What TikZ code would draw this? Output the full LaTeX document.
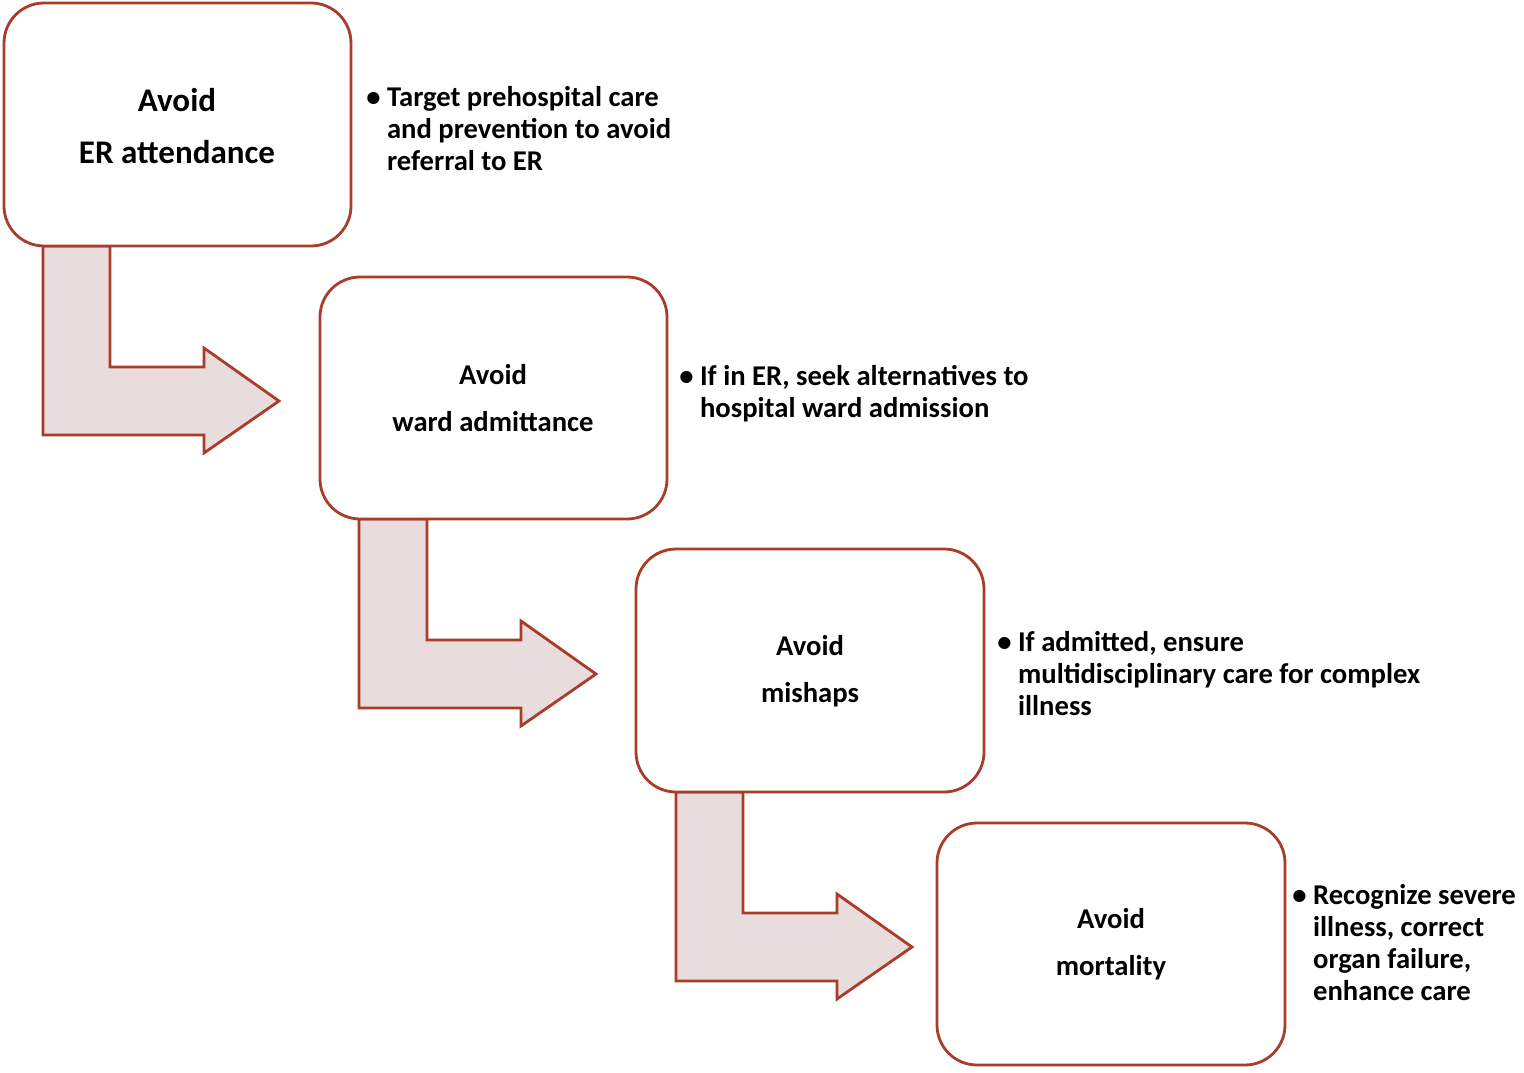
\documentclass[tikz,border=0pt]{standalone}
\usepackage{fontspec}
\setmainfont{Carlito}
\begin{document}
\begin{tikzpicture}[x=0.02cm,y=-0.02cm,
  box/.style={draw=boxred,line width=1.6pt,rounded corners=0.8cm,fill=white},
  arr/.style={draw=boxred,line width=1.6pt,fill=arrfill,line join=miter},
  title/.style={font=\bfseries\fontsize{16.3}{27}\selectfont,align=center},
  btext/.style={font=\bfseries\fontsize{16.3}{18.3}\selectfont,align=left,anchor=north west,inner sep=0pt}]
\definecolor{boxred}{RGB}{168,62,42}
\definecolor{arrfill}{RGB}{233,220,220}
\useasboundingbox (0,0) rectangle (1524,1072);
% arrows
\draw[arr] (43,246)--(110,246)--(110,367)--(204,367)--(204,348)--(279,401)--(204,453)--(204,435)--(43,435)--cycle;
\draw[arr] (359,519)--(427,519)--(427,640)--(521,640)--(521,621)--(596,674)--(521,726)--(521,708)--(359,708)--cycle;
\draw[arr] (676,792)--(743,792)--(743,913)--(837,913)--(837,894)--(912,947)--(837,999)--(837,981)--(676,981)--cycle;
% boxes
\draw[box] (4,3) rectangle (351,246);
\draw[box] (320,277) rectangle (667,519);
\draw[box] (636,549) rectangle (984,792);
\draw[box] (937,823) rectangle (1285,1065);
\node[title,font=\bfseries\fontsize{18.8}{30}\selectfont] (t1) at (177,126) {Avoid\\ER attendance};
\node[title] (t2) at (493,398) {Avoid\\ward admittance};
\node[title] (t3) at (810,671) {Avoid\\mishaps};
\node[title] (t4) at (1111,944) {Avoid\\mortality};
% bullets
\node[btext] (x1) at (366,86) {\textbullet~Target prehospital care\\\hphantom{\textbullet~}and prevention to avoid\\\hphantom{\textbullet~}referral to ER};
\node[btext] (x2) at (679,365) {\textbullet~If in ER, seek alternatives to\\\hphantom{\textbullet~}hospital ward admission};
\node[btext] (x3) at (997,631) {\textbullet~If admitted, ensure\\\hphantom{\textbullet~}multidisciplinary care for complex\\\hphantom{\textbullet~}illness};
\node[btext] (x4) at (1292,884) {\textbullet~Recognize severe\\\hphantom{\textbullet~}illness, correct\\\hphantom{\textbullet~}organ failure,\\\hphantom{\textbullet~}enhance care};
\end{tikzpicture}
\end{document}
